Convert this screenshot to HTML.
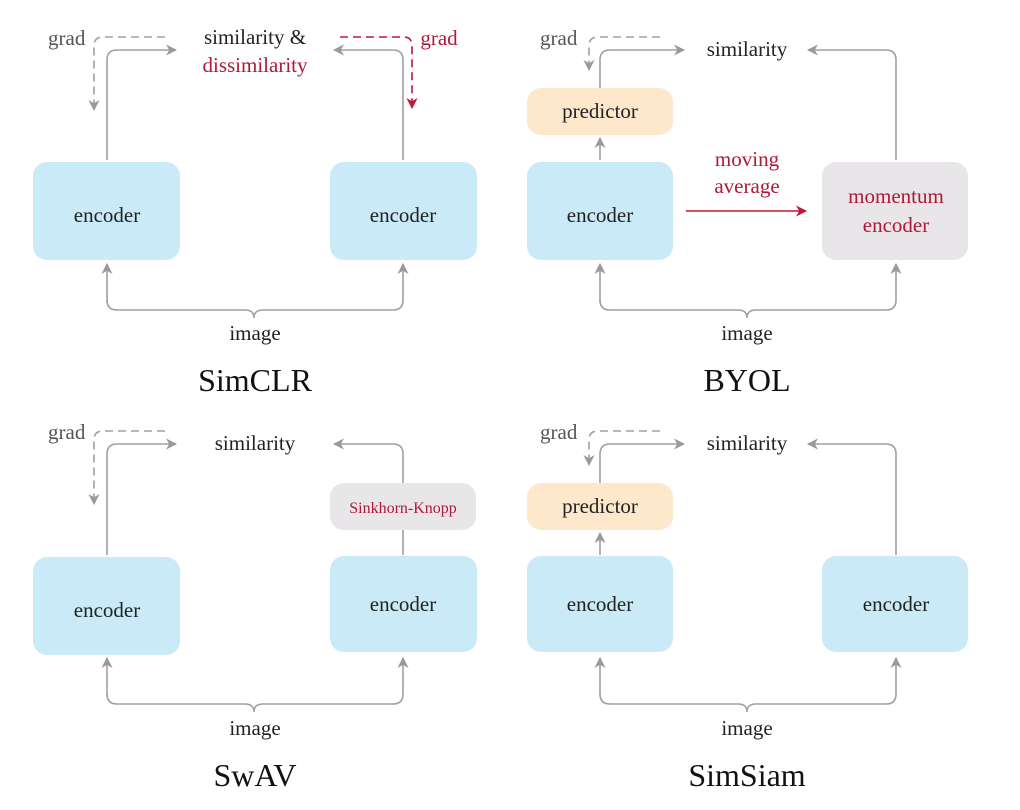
<!DOCTYPE html>
<html><head><meta charset="utf-8"><style>
html,body{margin:0;padding:0;background:#fff;}
svg{display:block;}
text{font-family:"Liberation Serif",serif;}
</style></head><body>
<svg width="1020" height="810" viewBox="0 0 1020 810" xmlns="http://www.w3.org/2000/svg">
<defs>
<marker id="g" viewBox="0 0 10 10" refX="9" refY="5" markerWidth="7" markerHeight="7" orient="auto"><path d="M0,0 L10,5 L0,10 L3,5 z" fill="#999"/></marker>
<marker id="r" viewBox="0 0 10 10" refX="9" refY="5" markerWidth="7" markerHeight="7" orient="auto"><path d="M0,0 L10,5 L0,10 L3,5 z" fill="#c0163a"/></marker>
</defs>
<g fill="none" stroke="#a0a0a0" stroke-width="1.6">
<!-- SimCLR -->
<path d="M107,160 V60 Q107,50 117,50 H176" marker-end="url(#g)"/>
<path d="M403,160 V60 Q403,50 393,50 H334" marker-end="url(#g)"/>
<path d="M165,37 H103 Q94,37 94,46 V110" stroke-dasharray="8,5" marker-end="url(#g)"/>
<path d="M340,37 H404 Q412,37 412,46 V108" stroke="#c0163a" stroke-dasharray="8,5" marker-end="url(#r)"/>
<path d="M107,302 V300 Q107,310 117,310 H245 Q254,310 254,318 Q254,310 263,310 H393 Q403,310 403,300 V264" marker-end="url(#g)"/>
<path d="M107,302 V264" marker-end="url(#g)"/>
<!-- BYOL -->
<path d="M600,88 V60 Q600,50 610,50 H684" marker-end="url(#g)"/>
<path d="M896,160 V60 Q896,50 886,50 H808" marker-end="url(#g)"/>
<path d="M660,37 H598 Q589,37 589,46 V70" stroke-dasharray="8,5" marker-end="url(#g)"/>
<path d="M600,160 V138" marker-end="url(#g)"/>
<path d="M686,211 H806" stroke="#c0163a" marker-end="url(#r)"/>
<path d="M600,302 V300 Q600,310 610,310 H738 Q747,310 747,318 Q747,310 756,310 H886 Q896,310 896,300 V264" marker-end="url(#g)"/>
<path d="M600,302 V264" marker-end="url(#g)"/>
<!-- SwAV -->
<path d="M107,555 V454 Q107,444 117,444 H176" marker-end="url(#g)"/>
<path d="M403,555 V454 Q403,444 393,444 H334" marker-end="url(#g)"/>
<path d="M165,431 H103 Q94,431 94,440 V504" stroke-dasharray="8,5" marker-end="url(#g)"/>
<path d="M107,696 V694 Q107,704 117,704 H245 Q254,704 254,712 Q254,704 263,704 H393 Q403,704 403,694 V658" marker-end="url(#g)"/>
<path d="M107,696 V658" marker-end="url(#g)"/>
<!-- SimSiam -->
<path d="M600,483 V454 Q600,444 610,444 H684" marker-end="url(#g)"/>
<path d="M896,555 V454 Q896,444 886,444 H808" marker-end="url(#g)"/>
<path d="M660,431 H598 Q589,431 589,440 V465" stroke-dasharray="8,5" marker-end="url(#g)"/>
<path d="M600,555 V533" marker-end="url(#g)"/>
<path d="M600,696 V694 Q600,704 610,704 H738 Q747,704 747,712 Q747,704 756,704 H886 Q896,704 896,694 V658" marker-end="url(#g)"/>
<path d="M600,696 V658" marker-end="url(#g)"/>
</g>
<!-- boxes -->
<g>
<rect x="33" y="162" width="147" height="98" rx="14" fill="#c9eaf6"/>
<rect x="330" y="162" width="147" height="98" rx="14" fill="#c9eaf6"/>
<rect x="527" y="162" width="146" height="98" rx="14" fill="#c9eaf6"/>
<rect x="822" y="162" width="146" height="98" rx="14" fill="#e8e6e8"/>
<rect x="527" y="88" width="146" height="47" rx="14" fill="#fde8cc"/>
<rect x="33" y="557" width="147" height="98" rx="14" fill="#c9eaf6"/>
<rect x="330" y="556" width="147" height="96" rx="14" fill="#c9eaf6"/>
<rect x="330" y="483" width="146" height="47" rx="14" fill="#e8e6e8"/>
<rect x="527" y="556" width="146" height="96" rx="14" fill="#c9eaf6"/>
<rect x="822" y="556" width="146" height="96" rx="14" fill="#c9eaf6"/>
<rect x="527" y="483" width="146" height="47" rx="14" fill="#fde8cc"/>
</g>
<g font-size="21" fill="#222" text-anchor="middle">
<text x="107" y="222">encoder</text>
<text x="403" y="222">encoder</text>
<text x="600" y="222">encoder</text>
<text x="600" y="118">predictor</text>
<text x="107" y="617">encoder</text>
<text x="403" y="611">encoder</text>
<text x="600" y="611">encoder</text>
<text x="896" y="611">encoder</text>
<text x="600" y="513">predictor</text>
<text x="255" y="44">similarity &amp;</text>
<text x="747" y="56">similarity</text>
<text x="255" y="450">similarity</text>
<text x="747" y="450">similarity</text>
<text x="255" y="340">image</text>
<text x="747" y="340">image</text>
<text x="255" y="735">image</text>
<text x="747" y="735">image</text>
</g>
<g font-size="21" fill="#555">
<text x="48" y="45">grad</text>
<text x="540" y="45">grad</text>
<text x="48" y="439">grad</text>
<text x="540" y="439">grad</text>
</g>
<g font-size="21" fill="#b01838" text-anchor="middle">
<text x="255" y="72">dissimilarity</text>
<text x="439" y="45">grad</text>
<text x="747" y="166">moving</text>
<text x="747" y="193">average</text>
<text x="896" y="203">momentum</text>
<text x="896" y="232">encoder</text>
<text x="403" y="513" font-size="16">Sinkhorn-Knopp</text>
</g>
<g font-size="32" fill="#111" text-anchor="middle">
<text x="255" y="391">SimCLR</text>
<text x="747" y="391">BYOL</text>
<text x="255" y="786">SwAV</text>
<text x="747" y="786">SimSiam</text>
</g>
</svg>
</body></html>
